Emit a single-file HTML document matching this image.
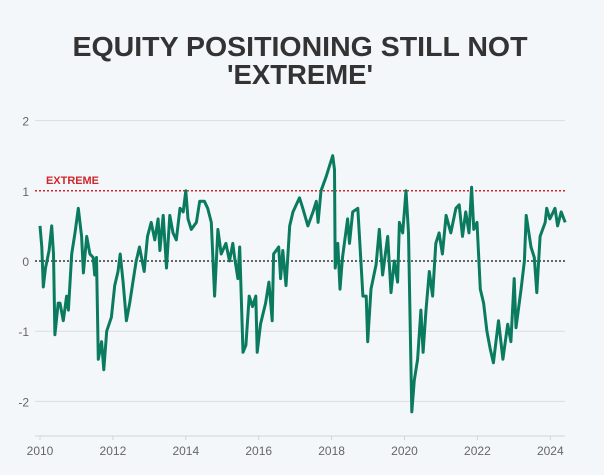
<!DOCTYPE html>
<html><head><meta charset="utf-8"><style>
html,body{margin:0;padding:0;background:#f4f7fa;}
svg{display:block;font-family:"Liberation Sans",sans-serif;}
</style></head><body>
<svg id="chart" width="604" height="475">
<rect width="604" height="475" fill="#f4f7fa"/>
<text x="300" y="56" text-anchor="middle" font-size="28" font-weight="bold" fill="#333" textLength="455" lengthAdjust="spacingAndGlyphs">EQUITY POSITIONING STILL NOT</text>
<text x="300" y="84" text-anchor="middle" font-size="28" font-weight="bold" fill="#333" textLength="146" lengthAdjust="spacingAndGlyphs">'EXTREME'</text>
<g id="grid"></g>
<g id="yaxis"></g>
<g id="xaxis"></g>
<g id="refs"></g>
<g id="series"></g>
</svg>
<script>
const yTicks=[2,1,0,-1,-2];
const yTickLabels=["2","1","0","-1","-2"];
const xTicks=[2010,2012,2014,2016,2018,2020,2022,2024];
const xTickLabels=["2010","2012","2014","2016","2018","2020","2022","2024"];
const extremeLevel=1;
const years=[2010.0,2010.05,2010.09,2010.15,2010.25,2010.32,2010.37,2010.41,2010.5,2010.55,2010.64,2010.73,2010.78,2010.87,2010.96,2011.05,2011.14,2011.19,2011.28,2011.37,2011.46,2011.5,2011.55,2011.6,2011.69,2011.75,2011.83,2011.96,2012.05,2012.14,2012.2,2012.28,2012.37,2012.46,2012.55,2012.64,2012.73,2012.86,2012.95,2013.05,2013.15,2013.24,2013.29,2013.38,2013.47,2013.56,2013.65,2013.74,2013.84,2013.93,2014.0,2014.06,2014.15,2014.29,2014.38,2014.51,2014.6,2014.7,2014.79,2014.88,2014.97,2015.1,2015.2,2015.29,2015.34,2015.43,2015.48,2015.57,2015.65,2015.74,2015.83,2015.92,2015.96,2016.05,2016.19,2016.28,2016.37,2016.41,2016.55,2016.6,2016.66,2016.75,2016.85,2016.94,2017.12,2017.21,2017.35,2017.49,2017.58,2017.63,2017.71,2017.85,2017.94,2018.03,2018.08,2018.1,2018.17,2018.23,2018.3,2018.44,2018.49,2018.58,2018.72,2018.81,2018.86,2018.95,2018.99,2019.08,2019.22,2019.31,2019.4,2019.54,2019.63,2019.72,2019.81,2019.86,2019.95,2020.04,2020.11,2020.16,2020.2,2020.27,2020.36,2020.45,2020.51,2020.59,2020.68,2020.77,2020.86,2020.95,2021.04,2021.14,2021.27,2021.41,2021.5,2021.59,2021.68,2021.77,2021.84,2021.9,2021.99,2022.08,2022.17,2022.26,2022.35,2022.44,2022.58,2022.7,2022.83,2022.92,2023.01,2023.06,2023.2,2023.29,2023.34,2023.47,2023.56,2023.63,2023.72,2023.86,2023.9,2023.99,2024.13,2024.2,2024.3,2024.41];
const values=[0.5,0.2,-0.37,-0.1,0.15,0.5,0.1,-1.05,-0.6,-0.6,-0.85,-0.5,-0.7,0.1,0.4,0.75,0.35,-0.17,0.35,0.1,0.05,-0.2,0.05,-1.4,-1.15,-1.55,-1.0,-0.8,-0.35,-0.15,0.1,-0.3,-0.85,-0.6,-0.3,0.0,0.2,-0.15,0.35,0.55,0.3,0.6,0.15,0.65,-0.1,0.65,0.4,0.3,0.75,0.7,1.0,0.6,0.45,0.55,0.85,0.85,0.75,0.55,-0.5,0.45,0.1,0.25,0.0,0.25,0.05,-0.25,0.2,-1.3,-1.2,-0.5,-0.65,-0.5,-1.3,-0.9,-0.6,-0.3,-0.85,0.1,0.2,-0.25,0.15,-0.35,0.5,0.7,0.9,0.75,0.5,0.7,0.85,0.55,1.0,1.2,1.35,1.5,1.3,-0.1,0.25,-0.4,0.05,0.6,0.25,0.7,0.75,-0.05,-0.5,-0.5,-1.15,-0.4,-0.05,0.45,-0.2,0.35,-0.45,0.0,-0.3,0.55,0.4,1.0,0.4,-1.0,-2.15,-1.7,-1.4,-0.7,-1.3,-0.7,-0.15,-0.5,0.25,0.4,0.1,0.65,0.4,0.75,0.8,0.35,0.7,0.4,1.05,0.45,0.55,-0.4,-0.6,-1.0,-1.25,-1.45,-0.85,-1.4,-0.9,-1.15,-0.25,-0.95,-0.4,0.0,0.65,0.2,0.05,-0.45,0.35,0.55,0.75,0.6,0.75,0.5,0.7,0.55];

const NS="http://www.w3.org/2000/svg";
const X0=40,XPY=36.45,Y0=261,YPU=70.2,LEFT=35,RIGHT=565,BOTTOM=436;
function xs(v){return X0+(v-2010)*XPY;}
function ys(v){return Y0-v*YPU;}
function mk(tag,attrs,parent,text){const e=document.createElementNS(NS,tag);for(const k in attrs)e.setAttribute(k,attrs[k]);if(text!==undefined)e.textContent=text;parent.appendChild(e);return e;}
const grid=document.getElementById('grid'),ya=document.getElementById('yaxis'),xa=document.getElementById('xaxis'),refs=document.getElementById('refs'),ser=document.getElementById('series');
yTicks.forEach((t,i)=>{
  if(t!==0&&t!==extremeLevel){const g=mk('line',{x1:LEFT,x2:RIGHT,y1:ys(t),y2:ys(t),stroke:'#d9dde2','stroke-width':1},grid);
  
  }
  const l=mk('text',{x:29,y:ys(t)+5,'text-anchor':'end','font-size':12,fill:'#666'},ya,yTickLabels[i]);
  
  
});
const ax=mk('line',{x1:LEFT,x2:RIGHT,y1:BOTTOM,y2:BOTTOM,stroke:'#d0d4d9','stroke-width':1},xa);


xTicks.forEach((t,i)=>{
  const tk=mk('line',{x1:xs(t),x2:xs(t),y1:BOTTOM,y2:BOTTOM+4,stroke:'#d0d4d9'},xa);
  
  
  const l=mk('text',{x:xs(t),y:455,'text-anchor':'middle','font-size':12,fill:'#666'},xa,xTickLabels[i]);
  
  
});
const z=mk('line',{x1:LEFT,x2:RIGHT,y1:ys(0),y2:ys(0),stroke:'#333','stroke-width':1.5,'stroke-dasharray':'2,2'},refs);


const ex=mk('line',{x1:LEFT,x2:RIGHT,y1:ys(extremeLevel),y2:ys(extremeLevel),stroke:'#d0262d','stroke-width':1.5,'stroke-dasharray':'2,2'},refs);


const et=mk('text',{x:46,y:ys(extremeLevel)-7,'font-size':11,'font-weight':'bold',fill:'#d0262d',textLength:53,lengthAdjust:'spacingAndGlyphs'},refs,'EXTREME');


const d=years.map((y,i)=>(i?'L':'M')+xs(y).toFixed(1)+','+ys(values[i]).toFixed(1)).join('');
const p=mk('path',{d:d,fill:'none',stroke:'#0b7b60','stroke-width':3,'stroke-linejoin':'round'},ser);


</script>
</body></html>
